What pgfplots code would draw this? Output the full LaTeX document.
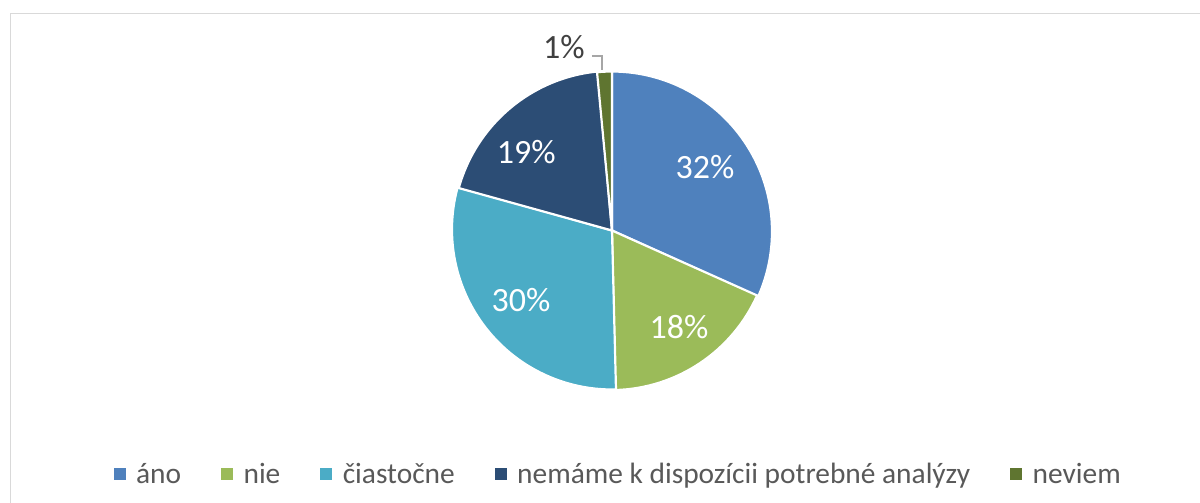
\documentclass[border=0pt]{standalone}
\usepackage{fontspec}
\setmainfont{Carlito}
\usepackage{pgfplots}
\usepackage{pgfplotstable}
\pgfplotsset{compat=1.18}
\definecolor{cano}{HTML}{4F81BD}
\definecolor{cnie}{HTML}{9BBB59}
\definecolor{cciast}{HTML}{4BACC6}
\definecolor{cnem}{HTML}{2C4D75}
\definecolor{cnev}{HTML}{5F7530}
\definecolor{legtext}{HTML}{595959}
\definecolor{darktext}{HTML}{404040}
\definecolor{framecol}{HTML}{D9D9D9}
\definecolor{leadercol}{HTML}{A6A6A6}

% value (percent), label position (axis units), label, slice colour, label colour
\pgfplotstableread{
value lx ly pct col lcol
31.7 0.585 0.396 32 cano white
17.9 0.421 -0.607 18 cnie white
29.7 -0.572 -0.437 30 cciast white
19.2 -0.539 0.491 19 cnem white
1.5 -0.302 1.154 1 cnev darktext
}\piedata

\tikzset{pielabel/.style={font=\fontsize{34pt}{40pt}\selectfont, inner sep=0pt}}

\begin{document}
\begin{tikzpicture}
\useasboundingbox (0,0) rectangle (1200pt,503pt);
\fill[white] (0,0) rectangle (1200pt,503pt);
\draw[framecol, line width=1.3pt] (10.3pt,0) -- (10.3pt,489.7pt) -- (1200pt,489.7pt);
\begin{axis}[
  at={(612pt,272.5pt)}, anchor=origin,
  x=159pt, y=159pt,
  xmin=-1, xmax=1, ymin=-1, ymax=1,
  hide axis, clip=false,
  legend columns=5,
  legend style={at={(axis cs:-3.135,-1.531)}, anchor=west, draw=none, fill=none,
    inner sep=0pt, font=\fontsize{29.4pt}{35pt}\selectfont, text=legtext,
    nodes={inner sep=0pt},
    /tikz/every odd column/.append style={column sep=11pt},
    /tikz/every even column/.append style={column sep=40pt}},
]
\addlegendimage{legend image code/.code={\fill[cano] (0pt,-4.8pt) rectangle (11pt,6.2pt);}}
\addlegendentry{áno}
\addlegendimage{legend image code/.code={\fill[cnie] (0pt,-4.8pt) rectangle (11pt,6.2pt);}}
\addlegendentry{nie}
\addlegendimage{legend image code/.code={\fill[cciast] (0pt,-4.8pt) rectangle (11pt,6.2pt);}}
\addlegendentry{čiastočne}
\addlegendimage{legend image code/.code={\fill[cnem] (0pt,-4.8pt) rectangle (11pt,6.2pt);}}
\addlegendentry{nemáme k dispozícii potrebné analýzy}
\addlegendimage{legend image code/.code={\fill[cnev] (0pt,-4.8pt) rectangle (11pt,6.2pt);}}
\addlegendentry{neviem}

\def\cum{0}
\pgfplotsforeachungrouped \i in {0,...,4}{%
  \pgfplotstablegetelem{\i}{value}\of\piedata \let\v=\pgfplotsretval
  \pgfplotstablegetelem{\i}{col}\of\piedata \let\c=\pgfplotsretval
  \pgfmathsetmacro\as{90-3.6*\cum}%
  \pgfmathsetmacro\cum{\cum+\v}%
  \pgfmathsetmacro\ae{90-3.6*\cum}%
  \pgfmathsetmacro\xs{cos(\as)}%
  \pgfmathsetmacro\ys{sin(\as)}%
  \edef\temp{\noexpand\fill[\c, draw=white, line width=2.2pt, line join=round]
    (axis cs:0,0) -- (axis cs:\xs,\ys) arc[start angle=\as, end angle=\ae, radius=160pt] -- cycle;}%
  \temp
}
\pgfplotsforeachungrouped \i in {0,...,4}{%
  \pgfplotstablegetelem{\i}{lx}\of\piedata \let\lx=\pgfplotsretval
  \pgfplotstablegetelem{\i}{ly}\of\piedata \let\ly=\pgfplotsretval
  \pgfplotstablegetelem{\i}{pct}\of\piedata \let\p=\pgfplotsretval
  \pgfplotstablegetelem{\i}{lcol}\of\piedata \let\lc=\pgfplotsretval
  \edef\temp{\noexpand\node[pielabel, text=\lc] at (axis cs:\lx,\ly) {\p\noexpand\%};}%
  \temp
}
\draw[leadercol, line width=1.3pt] (axis cs:-0.126,1.097) -- (axis cs:-0.063,1.097) -- (axis cs:-0.063,1.009);
\end{axis}
\end{tikzpicture}
\end{document}
